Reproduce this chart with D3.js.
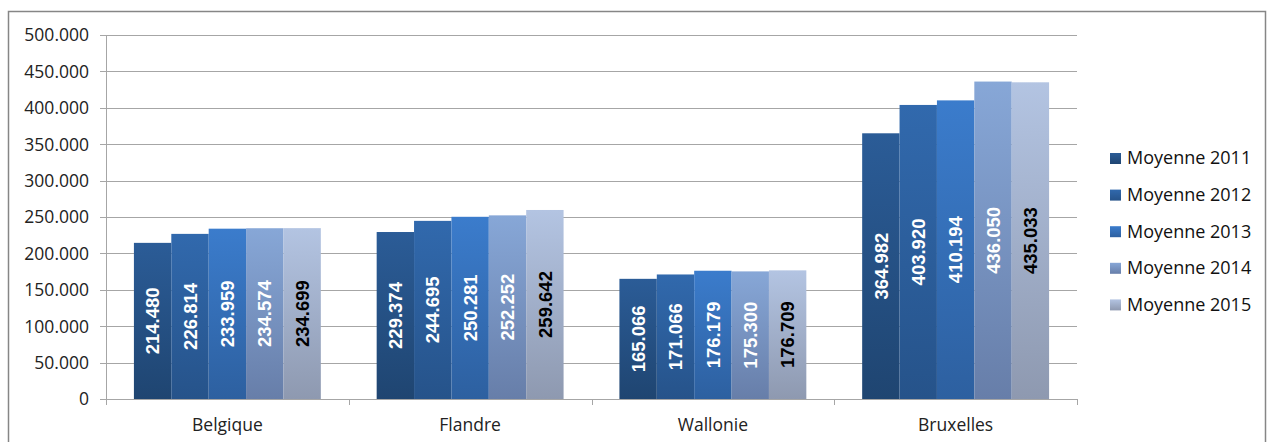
<!DOCTYPE html>
<html>
<head>
<meta charset="utf-8">
<script src="https://cdn.jsdelivr.net/npm/d3@7"></script>
<style>
  body { margin: 0; background: #fff; }
  svg { display: block; }
</style>
</head>
<body>
<div id="chart"></div>
<script>
// regions and yearly averages
const regions = ["Belgique", "Flandre", "Wallonie", "Bruxelles"];
const series = ["Moyenne 2011", "Moyenne 2012", "Moyenne 2013", "Moyenne 2014", "Moyenne 2015"];
const v2011 = [214480, 229374, 165066, 364982];
const v2012 = [226814, 244695, 171066, 403920];
const v2013 = [233959, 250281, 176179, 410194];
const v2014 = [234574, 252252, 175300, 436050];
const v2015 = [234699, 259642, 176709, 435033];
const yTicks = [0, 50000, 100000, 150000, 200000, 250000, 300000, 350000, 400000, 450000, 500000];

const allValues = [v2011, v2012, v2013, v2014, v2015];

// gradient stops (top, bottom) and label colour per series
const colors = [
    ["#2b5c97", "#1f4571"],
    ["#3169ad", "#26538a"],
    ["#3b7ccc", "#2d60a0"],
    ["#87a7d7", "#677ea9"],
    ["#b3c4e2", "#8e99b0"]
];
const labelColors = ["#fff", "#fff", "#fff", "#fff", "#000"];

const W = 1271, H = 442;
const margin = { top: 35, right: 194, bottom: 43, left: 106 };

const svg = d3.select("#chart").append("svg")
    .attr("width", W)
    .attr("height", H);

// outer frame
svg.append("rect")
    .attr("x", 8.5).attr("y", 11.5)
    .attr("width", 1257).attr("height", 460)
    .attr("fill", "none")
    .attr("stroke", "#868686")
    .attr("stroke-width", 1.5);

const defs = svg.append("defs");
colors.forEach((c, i) => {
    const g = defs.append("linearGradient")
        .attr("id", "grad" + i)
        .attr("x1", 0).attr("y1", 0).attr("x2", 0).attr("y2", 1);
    g.append("stop").attr("offset", "0%").attr("stop-color", c[0]);
    g.append("stop").attr("offset", "100%").attr("stop-color", c[1]);
});

const x0 = d3.scaleBand()
    .domain(regions)
    .range([margin.left, W - margin.right])
    .paddingInner(0.23)
    .paddingOuter(0.115);

const x1 = d3.scaleBand()
    .domain(series)
    .range([0, x0.bandwidth()]);

const y = d3.scaleLinear()
    .domain([0, 500000])
    .range([H - margin.bottom, margin.top]);

const tickFmt = d => d === 0 ? "0" : d3.format(".3f")(d / 1000);

// gridlines
svg.append("g")
    .selectAll("line")
    .data(yTicks)
    .join("line")
    .attr("x1", margin.left - 6)
    .attr("x2", W - margin.right)
    .attr("y1", d => Math.round(y(d)) + 0.5)
    .attr("y2", d => Math.round(y(d)) + 0.5)
    .attr("stroke", "#a6a6a6")
    .attr("stroke-width", 1);

// y axis labels
svg.append("g")
    .selectAll("text")
    .data(yTicks)
    .join("text")
    .attr("x", margin.left - 17)
    .attr("y", d => y(d))
    .attr("dy", "0.36em")
    .attr("text-anchor", "end")
    .attr("font-family", "Open Sans, sans-serif")
    .attr("font-size", 17.5)
    .attr("fill", "#222")
    .text(tickFmt);

// y axis line
svg.append("line")
    .attr("x1", margin.left + 0.5).attr("x2", margin.left + 0.5)
    .attr("y1", margin.top).attr("y2", H - margin.bottom + 6)
    .attr("stroke", "#a6a6a6");

// category tick marks
const bounds = [margin.left].concat(regions.map(r => x0(r) + x0.bandwidth() + x0.step() * x0.paddingInner() / 2));
bounds[bounds.length - 1] = W - margin.right;
svg.append("g")
    .selectAll("line")
    .data(bounds)
    .join("line")
    .attr("x1", d => Math.round(d) + 0.5).attr("x2", d => Math.round(d) + 0.5)
    .attr("y1", H - margin.bottom).attr("y2", H - margin.bottom + 6)
    .attr("stroke", "#a6a6a6");

// bars
const groups = svg.append("g")
    .selectAll("g")
    .data(regions)
    .join("g")
    .attr("transform", r => `translate(${x0(r)},0)`);

groups.each(function (r, ri) {
    const g = d3.select(this);
    const data = series.map((s, si) => ({ s, si, v: allValues[si][ri] }));
    g.selectAll("rect")
        .data(data)
        .join("rect")
        .attr("x", d => x1(d.s))
        .attr("y", d => y(d.v))
        .attr("width", x1.bandwidth())
        .attr("height", d => y(0) - y(d.v))
        .attr("fill", d => `url(#grad${d.si})`);
    g.selectAll("text")
        .data(data)
        .join("text")
        .attr("transform", d => `translate(${x1(d.s) + x1.bandwidth() / 2},${(y(d.v) + y(0)) / 2}) rotate(-90)`)
        .attr("text-anchor", "middle")
        .attr("dy", "0.36em")
        .attr("font-family", "Liberation Sans, Arial, sans-serif")
        .attr("font-weight", "bold")
        .attr("font-size", 18.5)
        .attr("fill", d => labelColors[d.si])
        .text(d => d3.format(".3f")(d.v / 1000));
});

// category labels
svg.append("g")
    .selectAll("text")
    .data(regions)
    .join("text")
    .attr("x", r => x0(r) + x0.bandwidth() / 2)
    .attr("y", H - margin.bottom + 32)
    .attr("text-anchor", "middle")
    .attr("font-family", "Open Sans, sans-serif")
    .attr("font-size", 17.5)
    .attr("fill", "#222")
    .text(r => r);

// legend
const legend = svg.append("g")
    .selectAll("g")
    .data(series)
    .join("g")
    .attr("transform", (s, i) => `translate(1110,${158 + i * 36.6})`);
legend.append("rect")
    .attr("x", 0).attr("y", -5)
    .attr("width", 11).attr("height", 11)
    .attr("fill", (s, i) => `url(#grad${i})`);
legend.append("text")
    .attr("x", 17)
    .attr("y", 0)
    .attr("dy", "0.36em")
    .attr("font-family", "Open Sans, sans-serif")
    .attr("font-size", 18)
    .attr("fill", "#111")
    .text(s => s);
</script>
</body>
</html>
